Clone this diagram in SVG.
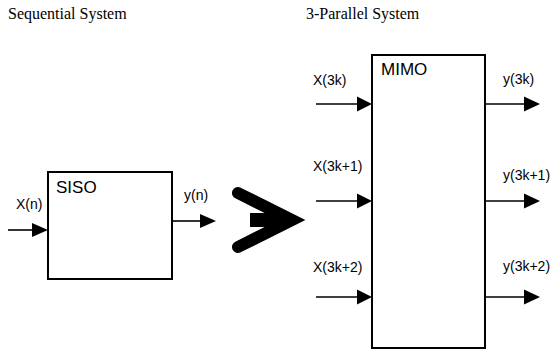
<svg xmlns="http://www.w3.org/2000/svg" width="553" height="351" viewBox="0 0 553 351">
<style>
.title{font-family:"Liberation Serif","Times New Roman",serif;font-size:16px;fill:#000}
.node{font-family:"Liberation Sans",Arial,sans-serif;font-size:17px;fill:#000}
.lbl{font-family:"Liberation Sans",Arial,sans-serif;font-size:14px;fill:#000}
.box{fill:#fff;stroke:#000;stroke-width:2}
.wire{stroke:#000;stroke-width:1.6;fill:none}
.head{fill:#000;stroke:none}
</style>
<rect width="553" height="351" fill="#fff"/>
<text class="title" x="8" y="19">Sequential System</text>
<text class="title" x="306" y="19">3-Parallel System</text>
<g id="siso">
<rect class="box" x="48" y="172" width="124" height="107"/>
<text class="node" x="56" y="193">SISO</text>
</g>
<g id="mimo">
<rect class="box" x="372" y="55" width="113" height="293"/>
<text class="node" x="381" y="75">MIMO</text>
</g>
<g id="big-arrow">
<polyline points="238,193 292,220 238,247" fill="none" stroke="#000" stroke-width="12" stroke-linecap="round" stroke-linejoin="miter"/>
<polygon points="250,213 285,213 285,227 250,227" fill="#000"/>
</g>
<g id="connectors">
<line class="wire" x1="8" y1="230" x2="34" y2="230"/>
<polygon class="head" points="32,223 48,230 32,237"/>
<line class="wire" x1="172" y1="221" x2="202" y2="221"/>
<polygon class="head" points="200,214 216,221 200,228"/>
<line class="wire" x1="316" y1="104" x2="359" y2="104"/>
<polygon class="head" points="357,96.5 372,104 357,111.5"/>
<line class="wire" x1="316" y1="201" x2="359" y2="201"/>
<polygon class="head" points="357,193.5 372,201 357,208.5"/>
<line class="wire" x1="316" y1="297" x2="359" y2="297"/>
<polygon class="head" points="357,289.5 372,297 357,304.5"/>
<line class="wire" x1="485" y1="104" x2="526" y2="104"/>
<polygon class="head" points="524,96.5 540,104 524,111.5"/>
<line class="wire" x1="485" y1="201" x2="526" y2="201"/>
<polygon class="head" points="524,193.5 540,201 524,208.5"/>
<line class="wire" x1="485" y1="297" x2="526" y2="297"/>
<polygon class="head" points="524,289.5 540,297 524,304.5"/>
</g>
<g id="labels">
<text class="lbl" x="16" y="209">X(n)</text>
<text class="lbl" x="184" y="200">y(n)</text>
<text class="lbl" x="313" y="85">X(3k)</text>
<text class="lbl" x="313" y="171">X(3k+1)</text>
<text class="lbl" x="313" y="272">X(3k+2)</text>
<text class="lbl" x="503" y="84">y(3k)</text>
<text class="lbl" x="503" y="180">y(3k+1)</text>
<text class="lbl" x="503" y="271">y(3k+2)</text>
</g>
</svg>
